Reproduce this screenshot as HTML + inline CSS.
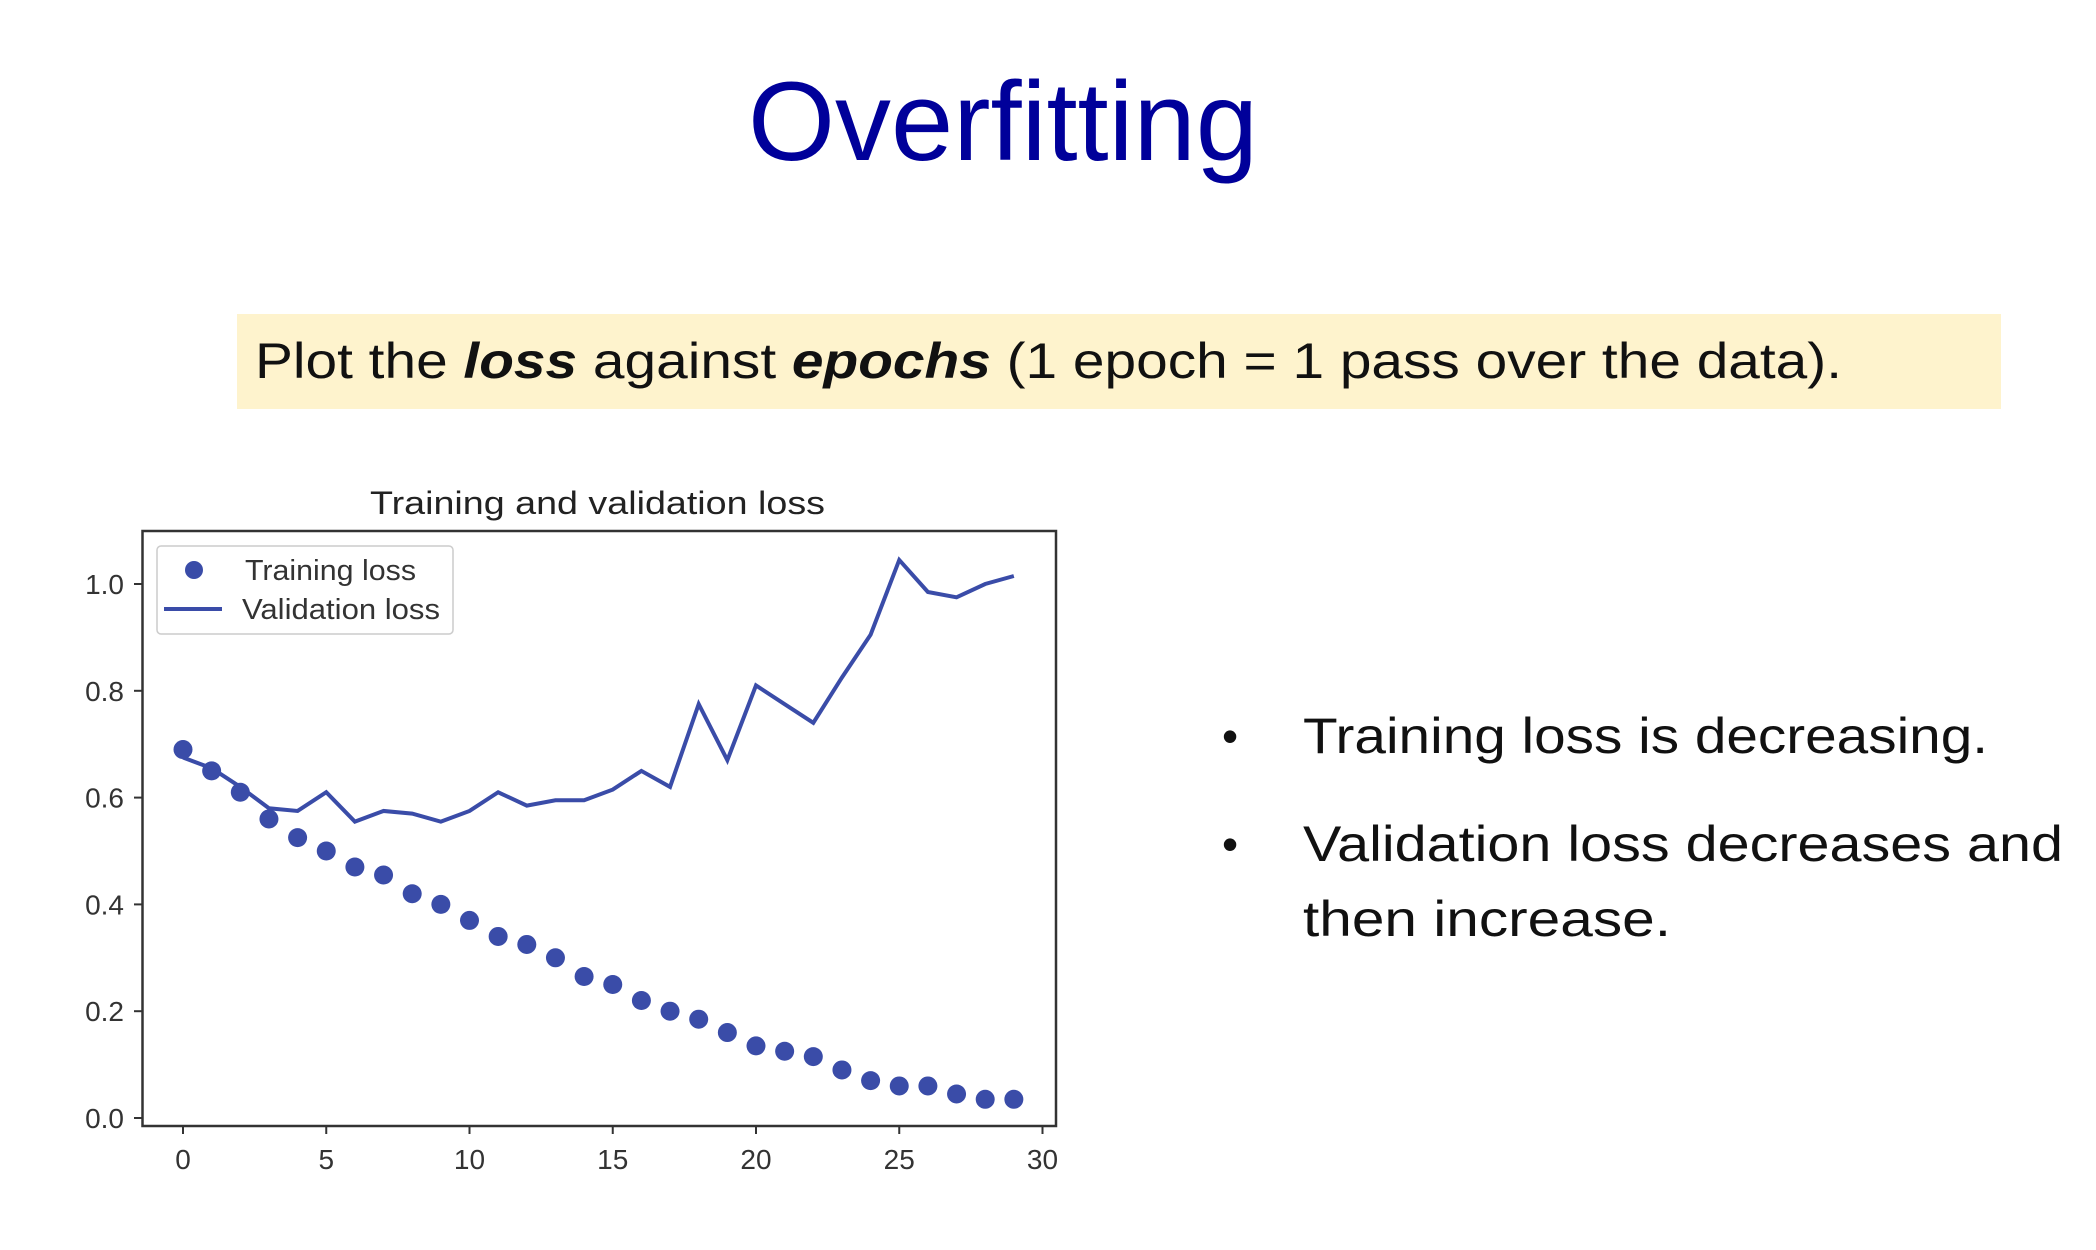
<!DOCTYPE html>
<html><head><meta charset="utf-8"><style>
html,body{margin:0;padding:0;background:#fff;}
svg{display:block;font-family:"Liberation Sans",sans-serif;}
</style></head><body>
<svg id="s" width="2096" height="1250" viewBox="0 0 2096 1250">
<text x="1003" y="160" font-size="112" fill="#00009a" text-anchor="middle" textLength="510" lengthAdjust="spacingAndGlyphs">Overfitting</text>
<rect x="237" y="314" width="1764" height="95" fill="#fef3cd"/>
<text x="255" y="378" font-size="50" fill="#111" textLength="1587" lengthAdjust="spacingAndGlyphs">Plot the <tspan font-weight="bold" font-style="italic">loss</tspan> against <tspan font-weight="bold" font-style="italic">epochs</tspan> (1 epoch = 1 pass over the data).</text>
<text x="1222" y="752" font-size="46" fill="#111">•</text>
<text x="1303" y="753" font-size="50" fill="#111" textLength="685" lengthAdjust="spacingAndGlyphs">Training loss is decreasing.</text>
<text x="1222" y="860" font-size="46" fill="#111">•</text>
<text x="1303" y="861" font-size="50" fill="#111" textLength="760" lengthAdjust="spacingAndGlyphs">Validation loss decreases and</text>
<text x="1303" y="936" font-size="50" fill="#111" textLength="368" lengthAdjust="spacingAndGlyphs">then increase.</text>
<text x="370" y="514" font-size="32" fill="#222" textLength="455" lengthAdjust="spacingAndGlyphs">Training and validation loss</text>
<g id="plot"></g>
<rect x="142.5" y="531" width="913.5" height="595" fill="none" stroke="#333" stroke-width="2.5"/>
<g>
<rect x="157" y="546" width="296" height="88" rx="4" fill="#fff" stroke="#ccc" stroke-width="1.5"/>
<circle cx="194" cy="570" r="9" fill="#3a4ca8"/>
<text x="245" y="580" font-size="29" fill="#333" textLength="171" lengthAdjust="spacingAndGlyphs">Training loss</text>
<line x1="164" y1="609" x2="222" y2="609" stroke="#3a4ca8" stroke-width="4"/>
<text x="242" y="619" font-size="29" fill="#333" textLength="198" lengthAdjust="spacingAndGlyphs">Validation loss</text>
</g>
</svg>
<script>
const epochs=[0,1,2,3,4,5,6,7,8,9,10,11,12,13,14,15,16,17,18,19,20,21,22,23,24,25,26,27,28,29];
const trainingLoss=[0.69,0.65,0.61,0.56,0.525,0.50,0.47,0.455,0.42,0.40,0.37,0.34,0.325,0.30,0.265,0.25,0.22,0.20,0.185,0.16,0.135,0.125,0.115,0.09,0.07,0.06,0.06,0.045,0.035,0.035];
const validationLoss=[0.675,0.655,0.62,0.58,0.575,0.61,0.555,0.575,0.57,0.555,0.575,0.61,0.585,0.595,0.595,0.615,0.65,0.62,0.775,0.67,0.81,0.775,0.74,0.825,0.905,1.045,0.985,0.975,1.0,1.015];
const xTicks=[0,5,10,15,20,25,30];
const yTicks=[0.0,0.2,0.4,0.6,0.8,1.0];
const yTickLabels=["0.0","0.2","0.4","0.6","0.8","1.0"];
const NS="http://www.w3.org/2000/svg";
const X=v=>183+v*28.65;
const Y=v=>1118-v*534;
const g=document.getElementById('plot');
function mk(t,a){const e=document.createElementNS(NS,t);for(const k in a)e.setAttribute(k,a[k]);g.appendChild(e);return e;}
xTicks.forEach((t,i)=>{
 const l=mk('line',{x1:X(t),x2:X(t),y1:1126,y2:1134,stroke:'#333','stroke-width':2});
 
 
 const tx=mk('text',{x:X(t),y:1169,'font-size':28,fill:'#333','text-anchor':'middle'});
 tx.textContent=String(t);
 
 
});
yTicks.forEach((t,i)=>{
 const l=mk('line',{x1:134,x2:142.5,y1:Y(t),y2:Y(t),stroke:'#333','stroke-width':2});
 
 
 const tx=mk('text',{x:124,y:Y(t)+10,'font-size':28,fill:'#333','text-anchor':'end'});
 tx.textContent=yTickLabels[i];
 
 
});
const p=mk('polyline',{points:epochs.map((e,i)=>X(e)+','+Y(validationLoss[i])).join(' '),fill:'none',stroke:'#3a4ca8','stroke-width':4,'stroke-linejoin':'miter'});


epochs.forEach((e,i)=>{
 const c=mk('circle',{cx:X(e),cy:Y(trainingLoss[i]),r:9.5,fill:'#3a4ca8'});
 
 
});
</script>
</body></html>
